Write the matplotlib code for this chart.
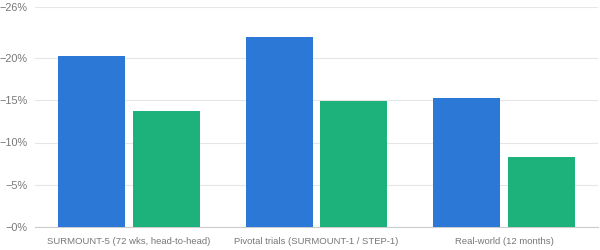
import numpy as np
import matplotlib
matplotlib.use('Agg')
import matplotlib.pyplot as plt
from matplotlib.ticker import FixedLocator, FuncFormatter

categories = ['SURMOUNT-5 (72 wks, head-to-head)',
              'Pivotal trials (SURMOUNT-1 / STEP-1)',
              'Real-world (12 months)']
# weight change in percent (negative = loss)
series_blue = [-20.2, -22.5, -15.3]
series_green = [-13.7, -14.9, -8.3]
y_ticks = [0, -5, -10, -15, -20, -26]

blue = '#2b78d6'
green = '#1db17b'
grid_c = '#e6e6e6'
text_c = '#777777'

plt.rcParams['font.family'] = ['Liberation Sans', 'DejaVu Sans']

fig = plt.figure(figsize=(6, 2.5), dpi=100)
ax = fig.add_axes([35 / 600, 23 / 250, 563 / 600, 219.7 / 250])

x = np.arange(len(categories))
w = 0.357
gap = 0.021
ax.bar(x - w / 2 - gap, series_blue, width=w, color=blue, zorder=3)
ax.bar(x + w / 2 + gap, series_green, width=w, color=green, zorder=3)

ax.set_xlim(-0.5, 2.5)
ax.set_ylim(0, -26)
ax.yaxis.set_major_locator(FixedLocator(y_ticks))
ax.yaxis.set_major_formatter(FuncFormatter(lambda v, p: '\u2212%d%%' % abs(v)))
ax.grid(axis='y', color=grid_c, linewidth=0.8, zorder=0)
ax.set_xticks(x)
ax.set_xticklabels(categories)

for s in ['top', 'right', 'left']:
    ax.spines[s].set_visible(False)
ax.spines['bottom'].set_color('#cccccc')
ax.spines['bottom'].set_linewidth(0.8)
ax.tick_params(axis='y', length=0, pad=5.5, labelsize=7.8, labelcolor=text_c)
ax.tick_params(axis='x', length=0, pad=7.5, labelsize=6.8, labelcolor=text_c)

fig.savefig('out.png', dpi=100)
